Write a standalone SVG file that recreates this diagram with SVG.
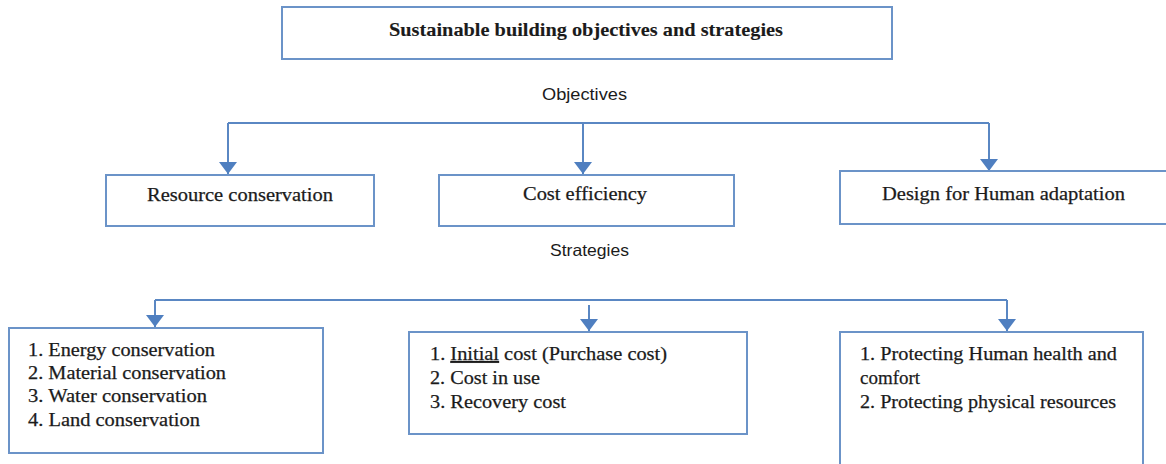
<svg xmlns="http://www.w3.org/2000/svg" width="1166" height="464" viewBox="0 0 1166 464">
  <defs>
    <style>
      .box { fill: #ffffff; stroke: #6b93c8; stroke-width: 2; }
      .link { fill: none; stroke: #5a87c3; stroke-width: 2; }
      .serif { font-family: "Liberation Serif", "Times New Roman", serif; font-size: 19px; fill: #1b1b1b; stroke: #1b1b1b; stroke-width: 0.25; }
      .title { font-weight: bold; font-size: 18px; stroke-width: 0.1; }
      .sans { font-family: "Liberation Sans", Arial, sans-serif; font-size: 16.5px; fill: #1b1b1b; }
    </style>
    <marker id="arrow" markerUnits="userSpaceOnUse" markerWidth="12" markerHeight="18" viewBox="0 0 12 18" refX="12" refY="9" orient="auto">
      <path d="M0,0 L12,9 L0,18 z" fill="#4f7fc0"/>
    </marker>
  </defs>

  <rect width="1166" height="464" fill="#ffffff"/>

  <!-- connectors -->
  <g id="connectors">
    <path class="link" d="M228,123 H989"/>
    <path class="link" d="M228,123 V174" marker-end="url(#arrow)"/>
    <path class="link" d="M583,123 V174" marker-end="url(#arrow)"/>
    <path class="link" d="M989,123 V171" marker-end="url(#arrow)"/>
    <path class="link" d="M155,300 H1007"/>
    <path class="link" d="M155,300 V327" marker-end="url(#arrow)"/>
    <path class="link" d="M589,305 V331" marker-end="url(#arrow)"/>
    <path class="link" d="M1007,300 V331" marker-end="url(#arrow)"/>
  </g>

  <!-- title -->
  <g id="title">
    <rect class="box" x="282" y="7" width="610" height="52"/>
    <text class="serif title" x="389" y="36" textLength="394" lengthAdjust="spacingAndGlyphs">Sustainable building objectives and strategies</text>
  </g>

  <!-- section labels -->
  <g id="label-objectives">
    <text class="sans" x="542" y="100" textLength="85" lengthAdjust="spacingAndGlyphs">Objectives</text>
  </g>
  <g id="label-strategies">
    <text class="sans" x="550" y="256" textLength="79" lengthAdjust="spacingAndGlyphs">Strategies</text>
  </g>

  <!-- objectives -->
  <g id="obj-resource">
    <rect class="box" x="106" y="175" width="268" height="51"/>
    <text class="serif" x="147" y="201" textLength="186" lengthAdjust="spacingAndGlyphs">Resource conservation</text>
  </g>
  <g id="obj-cost">
    <rect class="box" x="439" y="175" width="295" height="51"/>
    <text class="serif" x="523" y="200" textLength="124" lengthAdjust="spacingAndGlyphs">Cost efficiency</text>
  </g>
  <g id="obj-human">
    <rect class="box" x="840" y="171" width="332" height="53"/>
    <text class="serif" x="882" y="200" textLength="243" lengthAdjust="spacingAndGlyphs">Design for Human adaptation</text>
  </g>

  <!-- strategies -->
  <g id="str-resource">
    <rect class="box" x="9" y="328" width="314" height="125"/>
    <text class="serif" x="28" y="356" textLength="187" lengthAdjust="spacingAndGlyphs">1. Energy conservation</text>
    <text class="serif" x="28" y="379" textLength="198" lengthAdjust="spacingAndGlyphs">2. Material conservation</text>
    <text class="serif" x="28" y="402" textLength="179" lengthAdjust="spacingAndGlyphs">3. Water conservation</text>
    <text class="serif" x="28" y="426" textLength="172" lengthAdjust="spacingAndGlyphs">4. Land conservation</text>
  </g>
  <g id="str-cost">
    <rect class="box" x="409" y="332" width="338" height="102"/>
    <text class="serif" x="430" y="360" textLength="237" lengthAdjust="spacingAndGlyphs">1. <tspan text-decoration="underline">Initial</tspan> cost (Purchase cost)</text>
    <text class="serif" x="430" y="384" textLength="110" lengthAdjust="spacingAndGlyphs">2. Cost in use</text>
    <text class="serif" x="430" y="408" textLength="136" lengthAdjust="spacingAndGlyphs">3. Recovery cost</text>
  </g>
  <g id="str-human">
    <rect class="box" x="840" y="332" width="303" height="145"/>
    <text class="serif" x="860" y="360" textLength="257" lengthAdjust="spacingAndGlyphs">1. Protecting Human health and</text>
    <text class="serif" x="860" y="384" textLength="60" lengthAdjust="spacingAndGlyphs">comfort</text>
    <text class="serif" x="860" y="408" textLength="256" lengthAdjust="spacingAndGlyphs">2. Protecting physical resources</text>
  </g>
</svg>
